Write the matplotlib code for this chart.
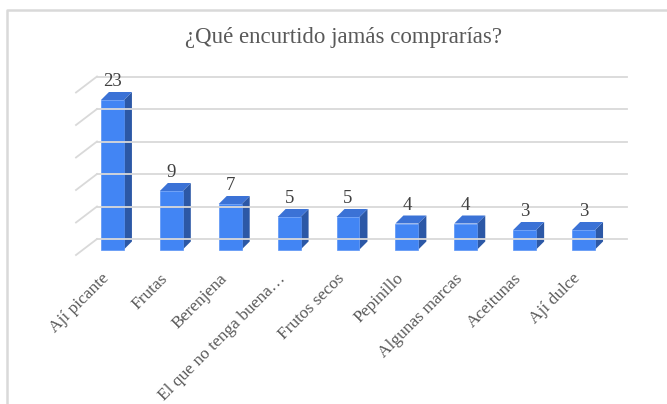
import matplotlib.pyplot as plt
from matplotlib.patches import Polygon, Rectangle
from matplotlib.lines import Line2D
from matplotlib.transforms import IdentityTransform

# Datos de la encuesta
categorias = ['Ají picante', 'Frutas', 'Berenjena', 'El que no tenga buena…',
              'Frutos secos', 'Pepinillo', 'Algunas marcas', 'Aceitunas', 'Ají dulce']
votos = [23, 9, 7, 5, 5, 4, 4, 3, 3]
niveles = [0, 5, 10, 15, 20, 25]

plt.rcParams['font.family'] = ['Liberation Serif', 'DejaVu Serif']

fig = plt.figure(figsize=(6.67, 4.04), dpi=100)
ax = fig.add_axes([83 / 667, 154.5 / 404, 530 / 667, 162.5 / 404])
ax.set_xlim(-0.5, len(categorias) - 0.5)
ax.set_ylim(0, 25)
ax.axis('off')

# Desplazamientos en pixeles para el efecto 3D
prof_barra = (8, 8)
fondo = (14, 10.5)
frente = (-7, -5.5)

c_frente = '#4285f4'
c_lado = '#2c58a6'
c_tapa = '#3b72d6'
c_grid = '#d9d9d9'
ident = IdentityTransform()


def px(x, y):
    return ax.transData.transform((x, y))


# Marco del grafico (solo borde izquierdo y superior visibles)
fig.add_artist(Line2D([6.5, 6.5, 667], [0, 394.5, 394.5], transform=ident,
                      color='#d9d9d9', lw=1.8))

# Lineas de cuadricula en pared del fondo y pared lateral
for v in niveles:
    x0, y0 = px(-0.5, v)
    x1, y1 = px(len(categorias) - 0.5, v)
    fig.add_artist(Line2D([x0 + fondo[0], x1 + fondo[0]], [y0 + fondo[1], y1 + fondo[1]],
                          transform=ident, color=c_grid, lw=1.3))
    fig.add_artist(Line2D([x0 + frente[0], x0 + fondo[0]], [y0 + frente[1], y0 + fondo[1]],
                          transform=ident, color=c_grid, lw=1.3))

# Barras con caras frontal, lateral y superior
ancho = 0.39
for i, v in enumerate(votos):
    xl, yb = px(i - ancho / 2, 0)
    xr, yt = px(i + ancho / 2, v)
    dx, dy = prof_barra
    lado = [(xr, yb), (xr + dx, yb + dy), (xr + dx, yt + dy), (xr, yt)]
    tapa = [(xl, yt), (xr, yt), (xr + dx, yt + dy), (xl + dx, yt + dy)]
    fig.add_artist(Polygon(lado, closed=True, transform=ident, fc=c_lado, ec='none'))
    fig.add_artist(Polygon(tapa, closed=True, transform=ident, fc=c_tapa, ec='none'))
    fig.add_artist(Rectangle((xl, yb), xr - xl, yt - yb, transform=ident,
                             fc=c_frente, ec='#5a94f5', lw=0.5))
    fig.text((xl + xr) / 2 / 667, (yt + 10) / 404, str(v), ha='center', va='bottom',
             fontsize=13.5, color='#404040')

# Etiquetas de categorias rotadas
for i, nombre in enumerate(categorias):
    x, y = px(i, 0)
    fig.text(x / 667, (y - 21) / 404, nombre, rotation=45,
             ha='right', va='top', fontsize=12.5, color='#595959')

fig.text(344 / 667, 1 - 38 / 404, '¿Qué encurtido jamás comprarías?', ha='center',
         va='center', fontsize=16.5, color='#595959')

fig.savefig('out.png', dpi=100)
